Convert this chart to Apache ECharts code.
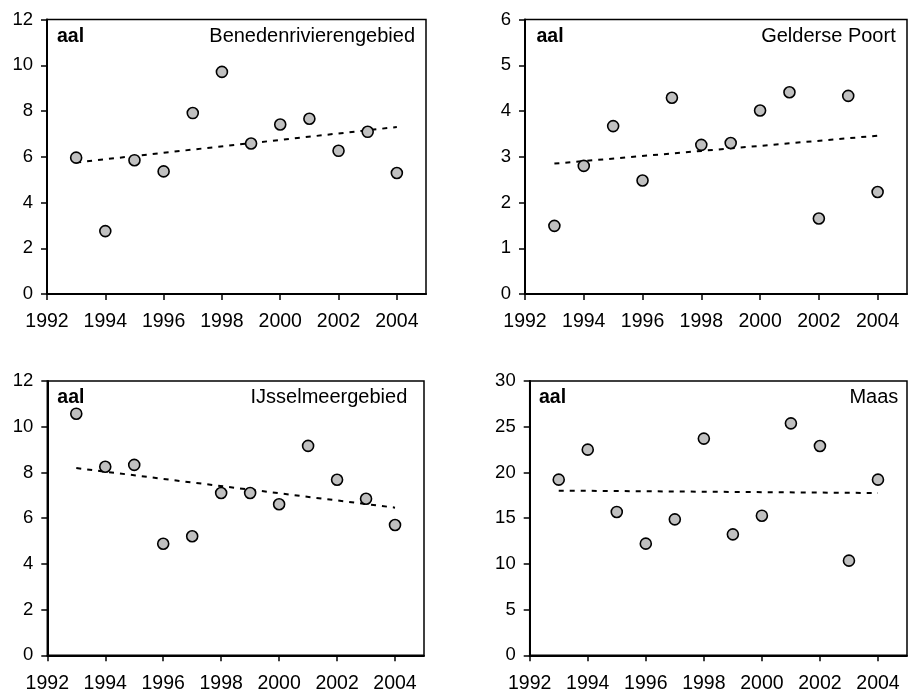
<!DOCTYPE html>
<html><head><meta charset="utf-8">
<script src="https://cdn.jsdelivr.net/npm/echarts@6/dist/echarts.min.js"></script>
<style>html,body{margin:0;padding:0;background:#fff}#c{width:908px;height:694px}</style>
</head><body><div id="c"></div>
<script>
// ---- data ----
const years = [1993, 1994, 1995, 1996, 1997, 1998, 1999, 2000, 2001, 2002, 2003, 2004];
const xTickLabels = [1992, 1994, 1996, 1998, 2000, 2002, 2004];
const species = 'aal';
const regionNames = ['Benedenrivierengebied', 'Gelderse Poort', 'IJsselmeergebied', 'Maas'];
const benedenrivierengebied = [5.96, 2.75, 5.85, 5.36, 7.91, 9.71, 6.58, 7.41, 7.66, 6.26, 7.09, 5.29];
const geldersePoort = [1.49, 2.80, 3.67, 2.48, 4.29, 3.26, 3.30, 4.01, 4.41, 1.65, 4.33, 2.23];
const ijsselmeergebied = [10.57, 8.25, 8.33, 4.88, 5.21, 7.10, 7.10, 6.61, 9.16, 7.68, 6.85, 5.70];
const maas = [19.21, 22.49, 15.68, 12.21, 14.87, 23.70, 13.23, 15.27, 25.37, 22.89, 10.35, 19.21];
const trendYears = [1993, 2004];
const trendBeneden = [5.75, 7.30];
const trendGelderse = [2.85, 3.46];
const trendIJssel = [8.19, 6.46];
const trendMaas = [18.01, 17.75];
const yMaxes = [12, 6, 12, 30];
const yIntervals = [2, 1, 2, 5];

const seriesValues = [benedenrivierengebied, geldersePoort, ijsselmeergebied, maas];
const trendValues = [trendBeneden, trendGelderse, trendIJssel, trendMaas];

// ---- layout ----
const grids = [
  {left: 47, top: 19.5, width: 379, height: 274.5},
  {left: 525, top: 19.5, width: 382, height: 274.5},
  {left: 47.3, top: 381, width: 376.7, height: 274.3},
  {left: 529.7, top: 381, width: 377.3, height: 274.3}
];
const aalPos = [[57, 27], [536.5, 27], [57.3, 388], [539, 388]];
const namePos = [[493, 27], [12.3, 27], [500.7, 388], [9.7, 388]];

const FONT = '"Liberation Sans", Arial, sans-serif';
const option = {
  backgroundColor: '#fff',
  animation: false,
  title: [],
  grid: [], xAxis: [], yAxis: [], series: []
};
for (let i = 0; i < 4; i++) {
  option.grid.push(Object.assign({show: true, borderColor: '#000', borderWidth: 1.5, backgroundColor: 'transparent', containLabel: false}, grids[i]));
  option.xAxis.push({
    type: 'value', gridIndex: i, min: 1992, max: 2005, interval: 2,
    axisLine: {show: true, onZero: false, lineStyle: {color: '#000', width: 2}},
    axisTick: {show: true, length: 6, inside: false, customValues: xTickLabels, lineStyle: {color: '#000', width: 1.5}},
    axisLabel: {show: true, margin: 18, customValues: xTickLabels, color: '#000', fontSize: 19.5, fontFamily: FONT, formatter: v => String(v)},
    splitLine: {show: false}
  });
  option.yAxis.push({
    type: 'value', gridIndex: i, min: 0, max: yMaxes[i], interval: yIntervals[i],
    axisLine: {show: true, lineStyle: {color: '#000', width: 2}},
    axisTick: {show: true, length: 6, lineStyle: {color: '#000', width: 1.5}},
    axisLabel: {show: true, margin: 14, color: '#000', fontSize: 18.5, fontFamily: FONT},
    splitLine: {show: false}
  });
  option.series.push({
    type: 'line', xAxisIndex: i, yAxisIndex: i, symbol: 'none', silent: true, z: 2,
    data: trendYears.map((y, k) => [y, trendValues[i][k]]),
    lineStyle: {color: '#000', width: 2, type: [5, 6]}
  });
  option.series.push({
    type: 'scatter', xAxisIndex: i, yAxisIndex: i, symbol: 'circle', symbolSize: 11, z: 3,
    data: years.map((y, k) => [y, seriesValues[i][k]]),
    itemStyle: {color: '#c0c0c0', borderColor: '#000', borderWidth: 1.6, opacity: 1}
  });
  option.title.push({
    text: species, left: aalPos[i][0], top: aalPos[i][1], padding: 0,
    textStyle: {fontFamily: FONT, fontSize: 19.5, fontWeight: 'bold', color: '#000', lineHeight: 19}
  });
  option.title.push({
    text: regionNames[i], right: namePos[i][0], top: namePos[i][1], padding: 0,
    textStyle: {fontFamily: FONT, fontSize: 20, fontWeight: 'normal', color: '#000', lineHeight: 19}
  });
}
const chart = echarts.init(document.getElementById('c'), null, {renderer: 'canvas'});
chart.setOption(option);
</script>
</body></html>
